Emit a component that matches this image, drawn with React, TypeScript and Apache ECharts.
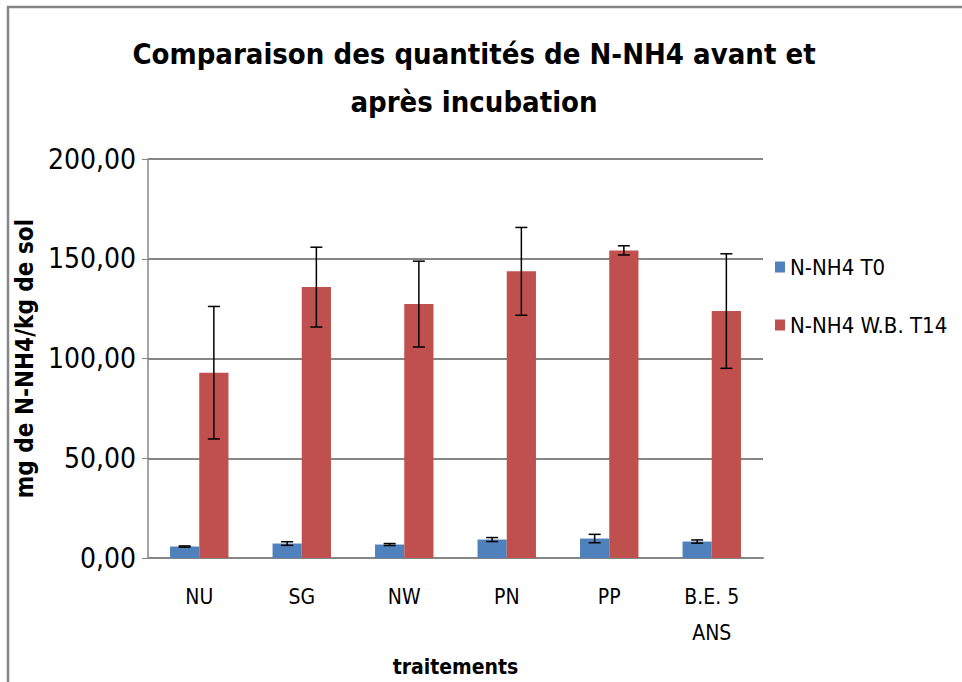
import React, { useEffect, useRef } from "react";
import * as echarts from "echarts";

const categories = ["NU", "SG", "NW", "PN", "PP", "B.E. 5\nANS"];
const seriesNames = ["N-NH4 T0", "N-NH4 W.B. T14"];
const t0Values = [5.8, 7.3, 6.8, 9.3, 9.8, 8.3];
const t0Errors = [0.3, 0.9, 0.5, 1.0, 2.1, 0.8];
const t14Values = [92.9, 135.8, 127.3, 143.7, 154.2, 123.8];
const t14Errors = [33.2, 20.0, 21.5, 22.0, 2.3, 28.7];
const yTicks = [0, 50, 100, 150, 200];

const FONT = "'Liberation Sans Narrow', 'DejaVu Sans Condensed', 'Open Sans', sans-serif";
const GAP = 0.43;

function errorSeries(values: number[], errors: number[], side: number) {
  return {
    type: "custom",
    silent: true,
    z: 10,
    data: values.map((v, i) => [i, v - errors[i], v + errors[i]]),
    renderItem: (params: any, api: any) => {
      const idx = api.value(0);
      const band = api.size([1, 0])[0];
      const group = band * (1 - GAP);
      const offset = side * group / 4;
      const lo = api.coord([idx, api.value(1)]);
      const hi = api.coord([idx, api.value(2)]);
      const x = lo[0] + offset;
      const cap = 6;
      const style = { stroke: "#000", lineWidth: 1.5 };
      return {
        type: "group",
        children: [
          { type: "line", shape: { x1: x, y1: lo[1], x2: x, y2: hi[1] }, style },
          { type: "line", shape: { x1: x - cap, y1: lo[1], x2: x + cap, y2: lo[1] }, style },
          { type: "line", shape: { x1: x - cap, y1: hi[1], x2: x + cap, y2: hi[1] }, style },
        ],
      };
    },
  };
}

export default function App() {
  const ref = useRef<HTMLDivElement>(null);
  useEffect(() => {
    if (!ref.current) return;
    const chart = echarts.init(ref.current, null, { renderer: "svg" });
    chart.setOption({
      animation: false,
      backgroundColor: "#fff",
      title: {
        text: "Comparaison des quantités de N-NH4 avant et\naprès incubation",
        left: 469,
        textAlign: "center",
        top: 25,
        textStyle: {
          fontFamily: FONT,
          fontWeight: "bold",
          fontSize: 29,
          lineHeight: 48,
          color: "#000",
        },
      },
      graphic: [
        {
          type: "rect",
          shape: { x: 8, y: 7, width: 1000, height: 720 },
          style: { fill: "none", stroke: "#868686", lineWidth: 2.5 },
          silent: true,
        },
      ],
      legend: {
        orient: "vertical",
        left: 770,
        top: 251,
        itemWidth: 10,
        itemHeight: 11,
        itemGap: 36,
        icon: "rect",
        textStyle: { fontFamily: FONT, fontSize: 22, color: "#000" },
        data: seriesNames,
      },
      grid: { left: 148, right: 199, top: 159, bottom: 122 },
      xAxis: {
        type: "category",
        data: categories,
        name: "traitements",
        nameLocation: "middle",
        nameGap: 86,
        nameTextStyle: { fontFamily: FONT, fontWeight: "bold", fontSize: 21, color: "#000" },
        axisLine: { lineStyle: { color: "#868686", width: 2 } },
        axisTick: { show: false },
        axisLabel: {
          fontFamily: FONT,
          fontSize: 21,
          color: "#000",
          margin: 21,
          lineHeight: 36,
          verticalAlign: "top",
        },
      },
      yAxis: {
        type: "value",
        min: 0,
        max: 200,
        interval: 50,
        name: "mg de N-NH4/kg de sol",
        nameLocation: "middle",
        nameGap: 104,
        nameTextStyle: { fontFamily: FONT, fontWeight: "bold", fontSize: 24, color: "#000" },
        axisLine: { show: true, lineStyle: { color: "#868686", width: 1.5 } },
        axisTick: { show: true, length: 6, lineStyle: { color: "#868686" } },
        splitLine: { lineStyle: { color: "#868686", width: 2 } },
        axisLabel: {
          fontFamily: FONT,
          fontSize: 28,
          color: "#000",
          margin: 12,
          formatter: (v: number) => (yTicks.includes(v) ? v.toFixed(2).replace(".", ",") : ""),
        },
      },
      series: [
        {
          name: seriesNames[0],
          type: "bar",
          data: t0Values,
          barGap: "0%",
          barCategoryGap: `${GAP * 100}%`,
          itemStyle: { color: "#4F81BD" },
        },
        {
          name: seriesNames[1],
          type: "bar",
          data: t14Values,
          barGap: "0%",
          barCategoryGap: `${GAP * 100}%`,
          itemStyle: { color: "#C0504D" },
        },
        errorSeries(t0Values, t0Errors, -1),
        errorSeries(t14Values, t14Errors, 1),
      ],
    });
    return () => chart.dispose();
  }, []);
  return (
    <div
      ref={ref}
      style={{ position: "fixed", left: 0, top: 0, width: 962, height: 682 }}
    />
  );
}
